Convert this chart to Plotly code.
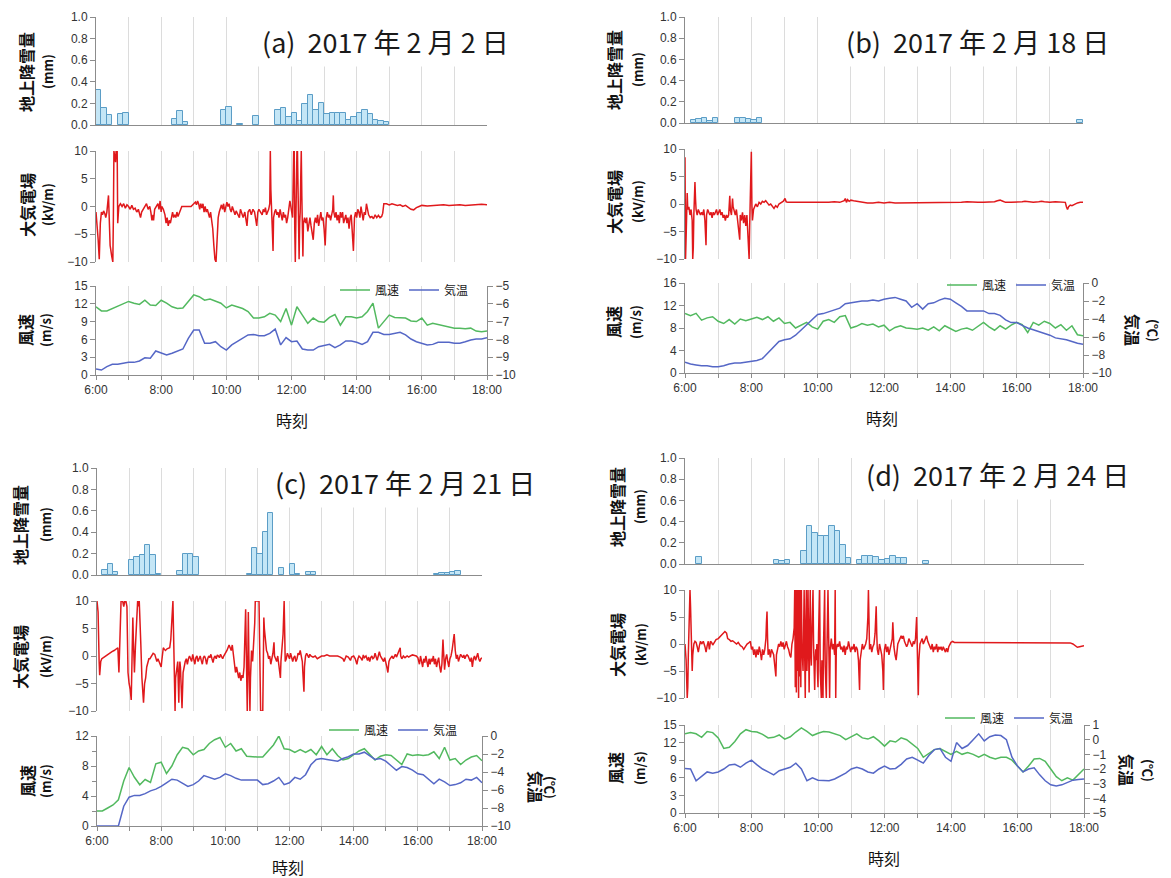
import plotly.graph_objects as go

W, H = 1171, 878

HOUR_MIN = list(range(0, 721, 60))
HOUR_TEXT = ["6:00", "", "8:00", "", "10:00", "", "12:00", "", "14:00", "", "16:00", "", "18:00"]
WIND_MIN = list(range(0, 721, 10))  # 10-minute sampling, minutes after 6:00

TITLES = ["(a)  2017 年 2 月 2 日", "(b)  2017 年 2 月 18 日",
          "(c)  2017 年 2 月 21 日", "(d)  2017 年 2 月 24 日"]

# ---- snowfall (10-minute bins: start minute after 6:00, mm) ----
PRE_A_MIN = [0, 10, 20, 40, 50, 140, 150, 160, 230, 240, 260, 290, 330, 340, 350, 360, 370, 380, 390, 400,
             410, 420, 430, 440, 450, 460, 470, 480, 490, 500, 510, 520, 530]
PRE_A_MM = [0.32, 0.16, 0.09, 0.10, 0.11, 0.06, 0.13, 0.03, 0.14, 0.17, 0.01, 0.08, 0.14, 0.16, 0.07, 0.11,
            0.04, 0.19, 0.28, 0.14, 0.20, 0.10, 0.11, 0.11, 0.11, 0.05, 0.07, 0.11, 0.14, 0.10, 0.05, 0.04, 0.03]
PRE_B_MIN = [10, 20, 30, 40, 50, 90, 100, 110, 120, 130, 710]
PRE_B_MM = [0.03, 0.04, 0.05, 0.02, 0.05, 0.05, 0.05, 0.04, 0.03, 0.05, 0.03]
PRE_C_MIN = [10, 20, 30, 60, 70, 80, 90, 100, 110, 150, 160, 170, 180, 280, 290, 300, 310, 320, 340, 360,
             370, 390, 400, 630, 640, 650, 660, 670]
PRE_C_MM = [0.05, 0.10, 0.03, 0.14, 0.17, 0.19, 0.28, 0.19, 0.01, 0.04, 0.20, 0.20, 0.17, 0.01, 0.25, 0.20,
            0.40, 0.58, 0.07, 0.10, 0.01, 0.03, 0.03, 0.01, 0.02, 0.02, 0.03, 0.04]
PRE_D_MIN = [20, 160, 170, 180, 210, 220, 230, 240, 250, 260, 270, 280, 290, 310, 320, 330, 340, 350, 360,
             370, 380, 390, 430]
PRE_D_MM = [0.07, 0.04, 0.03, 0.04, 0.12, 0.36, 0.29, 0.26, 0.26, 0.36, 0.31, 0.18, 0.06, 0.04, 0.08, 0.08,
            0.07, 0.04, 0.05, 0.08, 0.06, 0.06, 0.03]

# ---- atmospheric electric field (minute after 6:00, kV/m) ----
EF_A = [(0,-1),(2,-3),(4,-6),(6,-9.5),(8,-3),(10,-1),(12,-1.5),(14,-0.8),(16,-1.2),(18,-2),(20,-1),(23,2),(25,-3),(26,-7),
        (29,-9),(31,-10),(32,-2),(33,10),(36,8),(37,10),(39,10),(40,-3),(42,0),(45,0.5),(48,0),(51,0.5),(54,-0.3),(57,0.3),
        (60,0),(63,-0.5),(66,0.2),(69,-0.5),(72,-0.3),(75,-1),(78,-0.5),(80,-1.5),(82,-2),(84,-1),(87,-0.5),(90,0),(93,0.5),
        (96,-0.5),(99,0),(101,-1),(103,-2.5),(105,-1.5),(106,-2.5),(108,-0.5),(111,0),(114,0.5),(116,-0.5),(118,1),(120,-1),
        (121,0),(124,-0.5),(127,-1.5),(129,-3),(131,-2),(133,-3.5),(135,-2.5),(137,-3),(139,-1.5),(141,-1),(143,-2),(145,-1.5),
        (147,-2),(149,-1),(151,-1.8),(153,-1.2),(155,-0.5),(158,0),(162,0),(166,0),(170,0),(175,0),(180,0.5),(183,0.8),(185,0.3),
        (187,1),(189,0.5),(191,-0.5),(193,0.5),(195,-0.3),(197,0.5),(199,-1),(201,0),(203,-1),(205,-0.5),(207,-1.5),(209,-2),
        (211,-1),(213,-2.5),(215,-4),(217,-7),(219,-9.5),(221,-10),(223,-5),(225,-2),(227,-1),(229,-0.5),(231,0.3),(233,-0.5),
        (235,0.5),(237,-1),(239,-0.3),(241,0.8),(243,0),(245,0.5),(247,-0.5),(249,-1),(251,0),(253,-0.5),(256,-1.5),(258,-0.8),
        (261,-1.5),(264,-2),(266,-0.5),(268,-1),(271,-2),(274,-1),(276,-2.5),(278,-3.5),(280,-1),(283,-0.5),(286,-1.5),
        (289,-0.5),(292,-1),(294,-2),(296,-3.5),(298,-1),(300,-0.5),(303,-1),(306,-1.5),(308,-0.5),(310,-1),(312,-0.2),
        (314,-1.5),(316,-1),(318,-0.5),(320,0.5),(321,10),(322,3),(323,-2),(325,-5),(326,-8),(327,-2),(329,-1),(331,-0.5),
        (333,-1.5),(335,-1),(337,-2),(339,-0.5),(341,-1.5),(343,-2.5),(345,-1),(347,-2),(349,-1.5),(351,-3),(353,-2),
        (355,-0.5),(357,1),(358,0.5),(360,-1),(362,-2),(364,10),(365,10),(366,-4),(367,-10),(368,-3),(369,10),(370,10),
        (371,10),(372,0),(373,-6),(374,-9.5),(375,-3),(376,-1),(377,5),(378,10),(379,2),(380,-5),(381,-9),(382,-3),(384,-2),
        (386,-3),(388,-2),(390,-4.5),(392,-3),(394,-2),(396,-3.5),(398,-5),(400,-6),(402,-3),(404,-2),(406,-3),(408,-1.5),
        (410,-3.5),(412,-2),(414,-1),(416,-2.5),(418,-2),(420,-4),(422,-7),(424,-2),(426,-1),(428,-2),(430,-1.5),(432,-2.5),
        (434,-1),(436,-0.5),(437,2),(438,-1),(440,-2),(442,-1),(444,-2.5),(446,-1.5),(448,-3),(450,-1),(452,-2),(454,-1),
        (456,-3),(458,-2),(460,-1.5),(462,-3),(464,-2),(466,-4),(468,-2),(470,-1.5),(472,-4),(474,-8),(476,-2),(478,-1),
        (480,-2),(482,-0.5),(484,-1),(486,-2),(488,0),(490,-1),(492,-2.5),(494,-1),(496,-1.5),(498,0.5),(500,-1),(502,-1.5),
        (505,-2),(508,-1.8),(511,-2.2),(514,-1.5),(517,-2),(520,-1.6),(523,-2),(526,-1.8),(528,-1.2),(530,0.5),(535,0.5),
        (540,0.3),(545,0.5),(550,0.3),(555,0.2),(560,0.3),(565,0),(570,0.2),(575,-0.2),(580,-0.5),(585,-0.6),(590,-0.2),
        (595,0),(600,0.2),(610,0.1),(620,0.2),(630,0.2),(640,0.3),(650,0.2),(660,0.3),(670,0.3),(680,0.2),(690,0.3),
        (700,0.4),(710,0.4),(720,0.3)]

EF_B = [(0,8.5),(1,-10),(2,-6),(3,-2),(4,2),(5,-1),(7,-0.5),(9,-2),(11,-1),(13,-3),(14,-10),(15,-8),(16,-2),(18,4),(19,1),
        (20,-1),(22,-2),(24,-1),(26,-1.5),(28,-2),(30,-1.5),(32,-2),(34,-1),(36,-3),(38,-7.5),(39,-2),(41,-1),(43,-1.5),
        (45,-2),(47,-1.5),(49,-2.5),(51,-1.5),(53,-2),(55,-1.5),(57,-1),(59,-2),(61,-1.5),(63,-1),(65,-2),(67,-1.5),(69,-2.5),
        (71,-2),(73,-3),(75,-2),(77,-2.5),(79,-2),(81,1.5),(82,-1),(84,-2),(86,1),(87,-0.5),(89,-1.5),(91,-2),(93,-1),(95,-3),
        (97,-5),(99,-6.5),(100,-2),(102,-3),(104,-1.5),(106,-3.5),(108,-2),(110,-4),(112,-2),(114,-6),(116,-10),(117,-4),
        (118,0),(119,5),(120,9.5),(121,0),(122,-3),(124,-1),(126,-0.5),(128,0),(131,-0.5),(134,0.3),(137,0),(140,0.5),
        (143,0.3),(146,0.6),(149,0.2),(152,-0.2),(155,0),(158,-0.5),(161,-0.8),(164,-0.3),(167,-0.6),(170,0),(174,0.2),
        (178,0.5),(181,1),(183,0.4),(186,0.3),(190,0.3),(200,0.3),(210,0.3),(220,0.2),(230,0.3),(240,0.3),(250,0.3),
        (260,0.3),(270,0.4),(280,0.3),(288,0.6),(290,1),(292,0.3),(294,0.8),(297,0.5),(300,0.7),(305,0.6),(310,0.5),
        (320,0.3),(330,0.2),(340,0.2),(350,0.3),(360,0.2),(370,0.3),(380,0.2),(390,0.2),(400,0.3),(410,0.3),(420,0.3),
        (430,0.3),(440,0.3),(450,0.2),(460,0.3),(470,0.3),(480,0.3),(490,0.3),(500,0.3),(510,0.4),(520,0.3),(530,0.3),
        (540,0.3),(550,0.3),(560,0.4),(565,0.6),(570,0.7),(575,0.5),(580,0.3),(590,0.3),(600,0.3),(610,0.4),(615,0.5),
        (620,0.4),(630,0.3),(640,0.4),(645,0.5),(650,0.4),(660,0.3),(670,0.4),(680,0.3),(688,0.3),(690,-0.5),(692,-1),
        (694,-0.5),(697,-0.2),(700,-0.3),(705,0),(710,0.2),(715,0.3),(720,0.3)]

EF_C = [(0,10),(2,8),(4,-1),(5,-3.5),(7,-1),(9,-0.5),(12,-0.3),(16,0),(20,0.3),(24,0.5),(28,0.8),(32,1),(36,1.2),(39,1.5),
        (41,-3),(43,2),(45,10),(48,10),(50,9),(52,10),(54,10),(56,9),(57,5),(58,-3),(60,-5),(62,-6),(64,-8),(65,-2),(66,5),
        (67,7),(68,3),(70,-3),(72,2),(74,8),(76,10),(77,10),(78,9),(79,10),(80,5),(82,2),(84,-4),(87,-8.5),(89,-5),(91,-4),
        (93,-2),(95,-1),(97,-0.5),(99,-0.5),(102,0),(105,0.5),(108,0.3),(110,-0.5),(112,-1),(114,-0.5),(116,-1),(118,-1.5),
        (120,-2),(121,-1),(122,0),(124,1.5),(126,1.2),(128,1),(131,1.3),(134,1.5),(136,1.5),(138,3),(140,6),(142,10),(143,5),
        (144,-3),(145,-7),(146,-10),(147,-4),(149,-2),(151,-1),(152,-5),(153,-8.5),(154,-3),(155,-1),(156,-2),(157,-5),
        (159,-9.5),(161,-3),(163,-1.5),(165,-1),(167,-0.5),(169,-1.5),(171,-0.5),(173,0),(175,-0.5),(177,-1),(179,0.3),
        (181,-0.5),(183,-1.5),(185,-0.3),(187,0),(189,-1),(191,-0.5),(193,0),(195,-0.8),(197,-1.5),(199,-0.3),(201,0),
        (203,-0.5),(205,-1.5),(207,-0.5),(209,0),(211,-0.3),(213,0.3),(215,-0.5),(217,-1.2),(219,-0.3),(221,0),(223,-0.5),
        (225,0.2),(227,0),(229,-0.3),(231,0.3),(233,0),(235,-0.5),(237,0),(239,0.3),(241,0.5),(243,1),(245,1.5),(247,2),
        (249,1.5),(251,1),(253,2),(255,0),(257,-1.5),(259,-3),(261,-2),(263,-3.5),(265,-4),(267,-3),(269,-4.5),(271,-3.5),
        (273,-4),(275,-2),(277,3),(278,8.5),(279,2),(280,-6),(281,-10),(282,-2),(283,8),(284,0),(285,-10),(286,-10),(287,-4),
        (289,1),(291,-1),(293,2),(295,6),(296,10),(297,10),(299,10),(301,10),(303,10),(304,3),(305,-5),(306,-10),(308,-10),
        (310,-10),(311,-2),(312,7),(313,5),(315,3),(317,1),(319,0.5),(321,-0.5),(323,0),(325,-1.5),(327,-0.5),(329,0.5),
        (331,2.5),(332,0),(334,-0.5),(336,-1),(338,0),(340,-2),(342,-3.5),(343,-4),(344,-1),(346,1),(348,4),(350,10),(351,3),
        (352,-1),(354,-0.5),(356,0.5),(358,0),(360,-0.5),(362,0.5),(364,-0.5),(366,-1),(368,-0.3),(370,0),(372,-1),(374,-0.5),
        (376,0.5),(378,0.2),(380,1),(382,-0.5),(384,-1),(385,-3),(387,-6.5),(388,-2),(390,0),(392,0.5),(394,0),(396,-0.3),
        (398,0.3),(400,0),(404,-0.2),(408,0),(412,-0.5),(416,-0.2),(420,0),(425,0),(430,0.2),(435,0),(440,0),(445,0),(450,0),
        (455,-0.2),(460,-0.5),(462,-1),(464,-0.3),(466,0),(470,-0.2),(474,-0.8),(476,-0.2),(480,0),(483,-0.5),(486,-1.5),
        (488,-0.5),(490,0),(493,-0.3),(496,-0.8),(498,0.2),(500,-0.3),(503,0),(506,-0.8),(508,-0.2),(510,-1),(512,-0.3),
        (514,0),(516,-0.5),(518,-0.3),(520,0.5),(522,-0.3),(524,-0.8),(526,0),(528,0.8),(530,0),(533,-0.5),(536,-1),
        (538,-0.3),(540,-1.5),(542,-2),(544,-3),(546,-1),(548,-0.5),(550,-0.2),(552,0),(554,-0.5),(556,0),(558,0.3),
        (560,-0.2),(563,0.5),(565,1),(567,1.5),(568,0),(570,-0.5),(573,0),(576,-0.3),(580,0),(583,-0.2),(586,0),(590,0.2),
        (594,0.1),(597,0),(600,-0.3),(603,-1.5),(605,0),(607,-1.5),(609,-2),(611,-0.5),(613,-1.2),(615,0),(617,-1),(619,-2),
        (621,-0.5),(623,-1.5),(625,-0.5),(627,-1),(629,0),(631,-1.5),(633,-0.5),(635,-2),(637,-1),(639,-0.3),(641,-2),
        (643,-3),(645,-1.5),(647,3),(648,1),(650,-2.5),(652,-0.5),(654,0.3),(656,-1),(658,-2),(660,-0.5),(662,0),(664,1),
        (666,2.5),(668,4),(670,1),(672,-0.5),(674,0.2),(676,-1),(678,-0.3),(680,0.3),(682,0),(684,-0.3),(686,0.2),(688,-0.5),
        (690,0),(692,0.2),(694,0),(696,-0.5),(698,-1),(700,-0.3),(702,-2),(704,-0.5),(706,0),(708,-0.8),(710,-0.3),(712,0.5),
        (714,-0.5),(716,-1),(718,-0.5),(720,-0.3)]

EF_D = [(0,0),(2,-3),(4,-10),(5,-8),(6,-2),(7,3),(8,5),(9,10),(10,7),(11,2),(13,-5),(14,-2),(16,0),(18,0.5),(20,0.3),
        (22,-0.5),(24,-1.5),(26,-0.3),(28,0.5),(30,0),(33,0.5),(36,-0.5),(38,-1.5),(40,-0.3),(42,0.5),(44,-1),(46,0.5),
        (48,0.3),(50,-0.2),(53,0.3),(56,0.8),(60,1),(64,1.5),(68,2),(72,2.3),(75,2),(77,1),(80,0.8),(83,0.5),(86,0.6),
        (90,0.3),(93,0),(96,0.3),(100,-0.3),(103,-0.5),(106,-1),(109,-0.5),(112,0),(115,0.2),(118,0.5),(120,-1),(122,-0.5),
        (124,-2),(126,-1),(128,-2.5),(130,-1),(132,-2),(134,-0.5),(136,-1.5),(138,-3),(140,-1),(142,-2),(144,-1),(146,1),
        (147,4),(148,6),(149,1),(150,-2),(152,-1),(154,-2.5),(156,-1),(158,-1.5),(160,-2),(162,-4),(164,-6),(165,-2),(167,-1),
        (169,0),(171,-0.5),(173,0.5),(175,-0.5),(177,0.3),(179,-1),(181,0),(183,0.5),(185,-0.5),(187,-1),(189,-2),(191,-2.5),
        (193,0),(195,1),(197,3),(198,10),(199,-8),(200,10),(201,-9),(202,10),(203,-5),(204,10),(205,-10),(206,10),(207,-6),
        (208,10),(209,-8),(210,10),(211,0),(212,-3),(213,-5),(214,2),(215,10),(216,-2),(217,-10),(218,3),(219,10),(220,-5),
        (221,-1),(222,10),(223,-3),(224,-9),(225,2),(226,10),(227,-2),(228,-4),(229,2),(230,10),(231,10),(232,0),(233,-5),
        (234,-8.5),(235,-3),(236,-1),(237,-3),(238,0),(239,-5),(240,-8),(241,2),(242,10),(243,10),(244,-5),(245,-10),
        (246,-10),(247,-3),(248,-10),(249,-10),(250,0),(251,10),(252,10),(253,-4),(254,-10),(255,-10),(256,-2),(257,8),
        (258,10),(259,3),(260,-10),(261,-10),(262,-1),(264,1),(266,-1),(268,0),(270,-2),(271,10),(272,-10),(273,-1),(275,0),
        (277,-0.5),(279,0.5),(281,-1),(283,-0.5),(285,-1.5),(287,-0.3),(289,-2),(291,-0.5),(293,-1),(295,0.5),(297,-0.5),
        (299,-1.5),(301,-0.5),(303,-1),(305,0),(307,-1.5),(309,-0.5),(311,-1),(313,-3),(314,-6),(315,-8.5),(316,-3),(318,-1),
        (320,0),(322,-1),(324,-0.5),(326,0),(328,1),(330,5),(331,10),(332,2),(333,-1),(335,0),(337,-1.5),(339,-0.5),(341,0),
        (343,2),(345,7),(346,2),(347,-1),(349,-2),(351,0),(353,-1),(355,-2),(357,-5),(358,-8.5),(359,-3),(360,-1),(362,0),
        (364,-1.5),(366,-0.5),(368,-2),(370,-1),(372,0),(374,1),(375,4),(376,1),(377,-0.5),(379,-2),(381,-3),(382,-2),(384,0),
        (386,0.5),(388,1),(390,1.5),(392,1),(394,1.5),(396,0.5),(398,0),(400,-0.5),(402,0),(404,1),(406,0.5),(408,0),
        (410,-0.5),(412,0.5),(414,0),(416,1),(417,3),(418,5),(419,0),(420,-5),(421,-9.5),(422,-3),(424,0),(426,0.5),(428,1),
        (430,0),(432,0.5),(434,1),(436,1.5),(438,0.5),(440,0),(442,-0.5),(444,-1),(446,0),(448,-1.5),(450,-0.5),(452,-1),
        (454,0),(456,-1.5),(458,-0.5),(460,-1),(462,-0.5),(464,-1.2),(466,-0.5),(468,-1),(470,-1.5),(472,-0.8),(474,-1.5),
        (476,-0.5),(478,0),(480,0.3),(483,0.5),(486,0.3),(490,0.3),(500,0.3),(510,0.3),(520,0.3),(530,0.3),(540,0.3),
        (550,0.3),(560,0.3),(570,0.3),(580,0.3),(590,0.3),(600,0.3),(610,0.3),(620,0.3),(630,0.3),(640,0.3),(650,0.3),
        (660,0.3),(670,0.3),(680,0.3),(690,0.3),(695,0.2),(700,0),(704,-0.3),(708,-0.6),(712,-0.5),(716,-0.4),(720,-0.3)]

# ---- wind speed (m/s) and air temperature (deg C), every 10 min 6:00-18:00 ----
WIND_A = [11.5, 10.8, 10.8, 11.2, 11.7, 12.1,  12.4, 12.1, 11.9, 12.6, 11.8, 11.7,  12.6, 12.1, 11.5, 11.2, 11.3, 12.4,
          13.5, 13.2, 12.6, 12.8, 12.4, 12.1,  11.3, 11.8, 11.5, 11.2, 10.7, 9.6,  9.6, 9.8, 10.4, 10.1, 9.0, 11.2,
          8.4, 11.5, 10.1, 8.7, 9.6, 9.0,  8.9, 9.7, 10.2, 8.4, 9.8, 9.8,  9.6, 9.8, 10.7, 12.1, 7.9, 9.0,
          10.1, 9.7, 9.6, 9.6, 9.1, 9.0,  9.6, 8.4, 8.7, 8.5, 8.4, 8.1,  7.9, 7.9, 7.8, 7.9, 7.4, 7.3,  7.4]
TEMP_A = [-9.66, -9.72, -9.53, -9.4, -9.4, -9.34,  -9.29, -9.29, -9.21, -9.03, -9.06, -8.65,
          -8.78, -8.88, -8.78, -8.65, -8.54, -7.94,  -7.47, -7.47, -8.22, -8.22, -8.13, -8.41,
          -8.6, -8.31, -8.13, -7.94, -7.75, -7.72,  -7.79, -7.79, -7.66, -7.42, -8.31, -7.9,
          -8.13, -8.09, -8.54, -8.6, -8.6, -8.41,  -8.35, -8.28, -8.46, -8.31, -8.09, -8.09,
          -8.16, -8.28, -8.13, -7.6, -7.6, -7.72,  -7.72, -7.66, -7.6, -7.75, -7.98, -8.13,
          -8.22, -8.31, -8.28, -8.16, -8.16, -8.16,  -8.22, -8.22, -8.13, -8.03, -7.98, -7.98,  -7.9]
WIND_B = [10.6, 10.2, 10.6, 9.4, 9.8, 10.0,  9.2, 8.8, 9.5, 8.7, 9.6, 9.3,  9.6, 9.9, 9.5, 10.0, 9.2, 9.8,
          8.8, 9.0, 8.0, 8.5, 9.0, 8.2,  7.8, 9.2, 9.5, 9.0, 10.0, 10.2,  8.0, 8.3, 8.8, 8.5, 8.7, 8.2,
          8.5, 7.5, 8.1, 8.4, 8.0, 7.9,  7.8, 8.0, 7.6, 8.2, 7.5, 8.4,  7.9, 7.4, 7.8, 8.0, 7.6, 8.3,
          9.0, 8.2, 7.6, 8.4, 7.8, 8.5,  9.0, 8.6, 7.2, 9.0, 8.5, 9.2,  8.8, 8.0, 8.6, 7.6, 8.4, 6.8,  6.6]
TEMP_B = [-8.8, -9.0, -9.1, -9.2, -9.2, -9.3,  -9.3, -9.2, -9.0, -8.9, -8.9, -8.8,  -8.7, -8.6, -8.4, -7.8, -7.2, -6.5,
          -6.3, -6.2, -5.8, -5.2, -4.6, -4.0,  -3.5, -3.4, -3.2, -3.0, -2.8, -2.3,  -2.2, -2.1, -2.0, -2.0, -1.9, -2.0,
          -1.8, -1.7, -1.6, -1.8, -2.0, -2.7,  -2.3, -2.9, -2.3, -2.2, -1.9, -1.7,  -1.8, -2.2, -2.6, -3.1, -3.1, -3.1,
          -3.1, -3.4, -3.4, -3.6, -4.1, -4.4,  -4.4, -4.7, -5.0, -5.2, -5.4, -5.6,  -5.8, -6.1, -6.2, -6.3, -6.5, -6.7,  -6.8]
WIND_C = [2.0, 2.0, 2.4, 2.8, 3.5, 6.0,  7.8, 6.5, 5.5, 6.2, 5.8, 8.3,  8.5, 7.0, 8.0, 9.5, 10.5, 10.3,
          9.5, 10.0, 10.2, 11.0, 11.5, 11.8,  10.5, 11.0, 10.0, 10.3, 9.3, 9.2,  9.2, 9.2, 10.0, 10.8, 12.0, 10.3,
          10.2, 9.8, 10.2, 9.8, 10.2, 9.5,  10.6, 9.5, 10.3, 9.4, 8.8, 9.0,  9.5, 10.0, 10.3, 9.5, 8.8, 9.3,
          9.5, 9.4, 8.8, 8.2, 9.6, 9.4,  9.5, 9.4, 9.5, 9.9, 9.0, 10.5,  8.8, 9.0, 8.2, 8.8, 9.2, 9.4,  8.7]
TEMP_C = [-10, -10, -10, -10, -10, -7.8,  -6.8, -6.6, -6.6, -6.4, -6.1, -5.9,  -5.6, -5.2, -4.8, -4.9, -5.3, -5.6,
          -5.4, -5.0, -4.4, -4.6, -4.8, -4.6,  -4.2, -4.4, -4.7, -4.9, -4.9, -4.9,  -4.9, -5.4, -5.3, -5.0, -4.6, -5.4,
          -5.2, -4.6, -4.8, -4.3, -3.2, -2.6,  -2.5, -2.6, -2.7, -2.8, -2.5, -2.3,  -2.0, -2.0, -1.8, -2.2, -2.6, -2.5,
          -2.8, -3.3, -3.8, -3.4, -3.5, -3.8,  -4.2, -4.3, -4.8, -5.3, -4.8, -5.1,  -5.5, -5.4, -5.2, -4.8, -4.9, -4.6,  -5.2]
WIND_D = [13.5, 13.7, 13.5, 12.9, 13.9, 13.7,  12.8, 11.0, 11.2, 12.2, 13.5, 14.2,  13.9, 13.8, 13.4, 12.8, 12.9, 13.3,
          12.6, 13.0, 13.8, 14.5, 13.9, 13.2,  13.6, 13.9, 13.8, 13.5, 13.2, 12.5,  13.0, 13.5, 12.8, 12.6, 13.0, 12.3,
          11.4, 12.3, 12.1, 12.8, 12.5, 11.8,  11.0, 9.5, 10.2, 10.8, 11.0, 10.5,  10.0, 10.5, 10.0, 10.3, 10.0, 9.5,
          10.0, 9.5, 9.2, 9.5, 9.5, 9.0,  8.0, 7.0, 8.0, 9.2, 9.3, 8.8,  7.5, 6.2, 5.5, 6.0, 5.6, 6.5,  7.5]
TEMP_D = [-1.96, -2.0, -2.8, -2.52, -2.2, -2.28,  -2.2, -2.0, -1.72, -1.68, -1.88, -1.6,  -1.4, -1.72, -2.0, -2.2, -2.4, -2.12,
          -2.0, -1.88, -1.6, -2.0, -2.8, -2.6,  -2.76, -2.76, -2.8, -2.68, -2.48, -2.28,  -2.0, -1.88, -2.0, -2.2, -2.28, -2.0,
          -1.8, -2.0, -1.96, -1.68, -1.32, -1.2,  -1.4, -1.6, -1.08, -0.68, -0.6, -1.2,  -1.48, -0.2, -0.6, -0.4, 0.0, 0.4,
          -0.08, 0.2, 0.32, 0.28, 0.0, -1.2,  -1.8, -2.2, -2.0, -1.92, -2.4, -2.8,  -3.08, -3.16, -3.08, -2.92, -2.76, -2.72,  -2.68]

WIND_RANGE = [[0, 15], [0, 16], [0, 12], [0, 15]]
WIND_DTICK = [3, 4, 4, 3]
WIND_MINOR = [None, None, 2, None]
TEMP_RANGE = [[-10, -5], [-10, 0], [-10, 0], [-5, 1]]
TEMP_DTICK = [1, 2, 2, 1]

DATA = [
    (PRE_A_MIN, PRE_A_MM, EF_A, WIND_A, TEMP_A),
    (PRE_B_MIN, PRE_B_MM, EF_B, WIND_B, TEMP_B),
    (PRE_C_MIN, PRE_C_MM, EF_C, WIND_C, TEMP_C),
    (PRE_D_MIN, PRE_D_MM, EF_D, WIND_D, TEMP_D),
]

# ---- layout geometry in pixels (positions only) ----
GEOM = [
    dict(x0=96, x1=487, pre=(17, 125), ef=(151, 262), wd=(286, 375), title=(385, 42), leg=(335, 290),
         lab=[(26, 47, 72), (27, 48, 205), (25, 46, 330)], rlab=None, xlab=(292, 420)),
    dict(x0=685, x1=1083, pre=(17, 123), ef=(149, 259), wd=(283, 373), title=(977, 42), leg=(942, 285),
         lab=[(614, 637, 70), (614, 637, 202), (613, 636, 322)], rlab=(1133, 1153, 330), xlab=(882, 418)),
    dict(x0=97, x1=482, pre=(468, 575), ef=(601, 711), wd=(736, 826), title=(405, 483), leg=(324, 730),
         lab=[(20, 45, 525), (20, 45, 657), (27, 45, 781)], rlab=(536, 551, 787), xlab=(288, 867)),
    dict(x0=685, x1=1084, pre=(458, 564), ef=(590, 698), wd=(725, 813), title=(997, 474), leg=(940, 718),
         lab=[(617, 639, 507), (617, 640, 645), (615, 639, 768)], rlab=(1127, 1149, 770), xlab=(884, 858)),
]
YLABELS = [("地上降雪量", "(mm)"), ("大気電場", "(kV/m)"), ("風速", "(m/s)")]

JP = "Noto Sans CJK JP"
TICKFONT = dict(family="Liberation Sans, Arial", size=12, color="#333333")
AXCOL = "#8c8c8c"
GRIDCOL = "#dcdcdc"
RED = "#e0191c"
GREEN = "#52b95f"
BLUE = "#5567c6"


def an(k, axis):
    return axis if k == 1 else f"{axis}{k}"


def ydom(r):
    return [1 - r[1] / H, 1 - r[0] / H]


fig = go.Figure()
layout = dict(width=W, height=H, margin=dict(l=0, r=0, t=0, b=0, autoexpand=False),
              paper_bgcolor="white", plot_bgcolor="white", bargap=0)
annotations = []

for i, ((pre_t, pre_v, ef, wind, temp), G) in enumerate(zip(DATA, GEOM)):
    kp, ke, kw = 3 * i + 1, 3 * i + 2, 3 * i + 3
    kt = 13 + i
    legname = "legend" if i == 0 else f"legend{i + 1}"
    xd = [G["x0"] / W, G["x1"] / W]

    fig.add_trace(go.Bar(x=[t + 5 for t in pre_t], y=pre_v, width=10,
                         marker=dict(color="#c4e6f6", line=dict(color="#5b9dc6", width=1)),
                         xaxis=an(kp, "x"), yaxis=an(kp, "y"), showlegend=False))
    fig.add_trace(go.Scatter(x=[p[0] for p in ef], y=[p[1] for p in ef], mode="lines",
                             line=dict(color=RED, width=1.5),
                             xaxis=an(ke, "x"), yaxis=an(ke, "y"), showlegend=False))
    fig.add_trace(go.Scatter(x=WIND_MIN, y=wind, mode="lines", name="風速",
                             line=dict(color=GREEN, width=1.5),
                             xaxis=an(kw, "x"), yaxis=an(kw, "y"), legend=legname))
    fig.add_trace(go.Scatter(x=WIND_MIN, y=temp, mode="lines", name="気温",
                             line=dict(color=BLUE, width=1.5),
                             xaxis=an(kw, "x"), yaxis=an(kt, "y"), legend=legname))

    base_x = dict(domain=xd, range=[0, 720], showgrid=True, gridcolor=GRIDCOL, gridwidth=1,
                  zeroline=False, fixedrange=True, automargin=False)
    layout[an(kp, "xaxis")] = dict(base_x, anchor=an(kp, "y"), tickvals=HOUR_MIN[1:-1],
                                   showticklabels=False, ticks="", showline=True,
                                   linecolor=AXCOL, linewidth=1)
    layout[an(ke, "xaxis")] = dict(base_x, anchor=an(ke, "y"), tickvals=HOUR_MIN[1:-1],
                                   showticklabels=False, ticks="", showline=False)
    layout[an(kw, "xaxis")] = dict(base_x, anchor=an(kw, "y"), tickvals=HOUR_MIN, ticktext=HOUR_TEXT,
                                   ticks="outside", ticklen=4, tickcolor=AXCOL, showline=True,
                                   linecolor=AXCOL, linewidth=1, tickfont=TICKFONT)

    base_y = dict(showgrid=False, zeroline=False, showline=True, linecolor=AXCOL, linewidth=1,
                  ticks="outside", ticklen=5, tickcolor=AXCOL, tickfont=TICKFONT, fixedrange=True,
                  automargin=False)
    layout[an(kp, "yaxis")] = dict(base_y, domain=ydom(G["pre"]), anchor=an(kp, "x"), range=[0, 1],
                                   tickvals=[0, 0.2, 0.4, 0.6, 0.8, 1.0], tickformat=".1f")
    layout[an(ke, "yaxis")] = dict(base_y, domain=ydom(G["ef"]), anchor=an(ke, "x"), range=[-10, 10],
                                   tickvals=[-10, -5, 0, 5, 10])
    wy = dict(base_y, domain=ydom(G["wd"]), anchor=an(kw, "x"), range=WIND_RANGE[i],
              dtick=WIND_DTICK[i], tick0=0)
    if WIND_MINOR[i]:
        wy["minor"] = dict(dtick=WIND_MINOR[i], ticks="outside", ticklen=4, tickcolor=AXCOL)
    layout[an(kw, "yaxis")] = wy
    layout[an(kt, "yaxis")] = dict(base_y, overlaying=an(kw, "y"), anchor=an(kw, "x"), side="right",
                                   range=TEMP_RANGE[i], dtick=TEMP_DTICK[i], tick0=0)

    layout[legname] = dict(orientation="h", x=G["leg"][0] / W, y=1 - G["leg"][1] / H,
                           xanchor="left", yanchor="middle", bgcolor="rgba(0,0,0,0)",
                           font=dict(family=JP, size=12, color="#222222"), itemwidth=30,
                           tracegroupgap=0)

    # panel title
    annotations.append(dict(text=TITLES[i], x=G["title"][0] / W, y=1 - G["title"][1] / H,
                            xref="paper", yref="paper", showarrow=False, xanchor="center", yanchor="middle",
                            font=dict(family=JP, size=27, color="#1a1a1a"), bgcolor="white", borderpad=5))
    # left axis titles
    for (name, unit), (xa, xb, yc) in zip(YLABELS, G["lab"]):
        annotations.append(dict(text=f"<b>{name}</b>", x=xa / W, y=1 - yc / H, xref="paper", yref="paper",
                                showarrow=False, textangle=-90, xanchor="center", yanchor="middle",
                                font=dict(family=JP, size=16, color="#111111")))
        annotations.append(dict(text=f"<b>{unit}</b>", x=xb / W, y=1 - yc / H, xref="paper", yref="paper",
                                showarrow=False, textangle=-90, xanchor="center", yanchor="middle",
                                font=dict(family=JP, size=13, color="#111111")))
    # right axis title
    if G["rlab"] is not None:
        xa, xb, yc = G["rlab"]
        annotations.append(dict(text="<b>気温</b>", x=xa / W, y=1 - yc / H, xref="paper", yref="paper",
                                showarrow=False, textangle=90, xanchor="center", yanchor="middle",
                                font=dict(family=JP, size=16, color="#111111")))
        annotations.append(dict(text="<b>(℃)</b>", x=xb / W, y=1 - yc / H, xref="paper", yref="paper",
                                showarrow=False, textangle=90, xanchor="center", yanchor="middle",
                                font=dict(family=JP, size=13, color="#111111")))
    # x axis title
    annotations.append(dict(text="時刻", x=G["xlab"][0] / W, y=1 - G["xlab"][1] / H, xref="paper", yref="paper",
                            showarrow=False, xanchor="center", yanchor="middle",
                            font=dict(family=JP, size=16, color="#111111")))

layout["annotations"] = annotations
fig.update_layout(**layout)
fig.write_html("out.html")
